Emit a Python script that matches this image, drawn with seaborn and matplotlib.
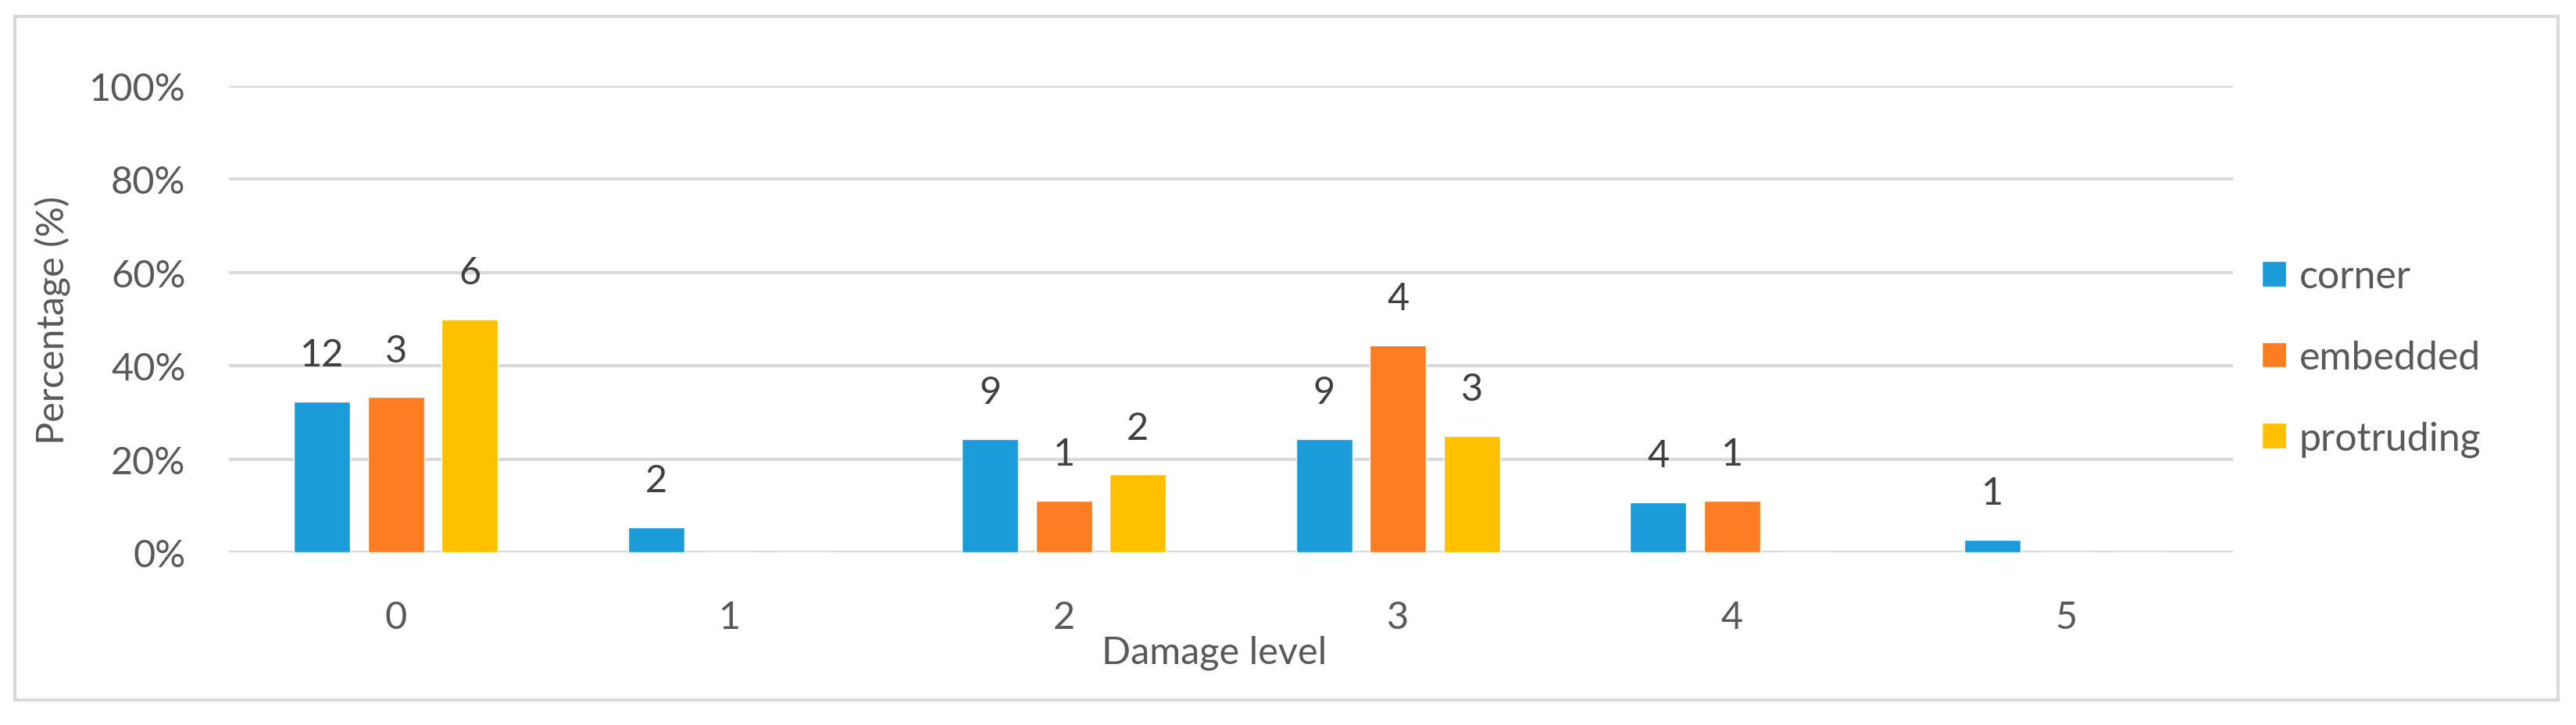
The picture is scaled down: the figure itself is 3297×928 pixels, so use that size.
import matplotlib
matplotlib.use('Agg')
import matplotlib.pyplot as plt
import seaborn as sns
import pandas as pd
from matplotlib.patches import Rectangle

# ---- data ----
levels = ['0', '1', '2', '3', '4', '5']
series = ['corner', 'embedded', 'protruding']
corner_pct = [32.4, 5.4, 24.3, 24.3, 10.8, 2.7]
embedded_pct = [33.3, 0.0, 11.1, 44.4, 11.1, 0.0]
protruding_pct = [50.0, 0.0, 16.7, 25.0, 0.0, 0.0]
corner_n = [12, 2, 9, 9, 4, 1]
embedded_n = [3, 0, 1, 4, 1, 0]
protruding_n = [6, 0, 2, 3, 0, 0]
yticks = [0, 20, 40, 60, 80, 100]
colors = ['#1B9BD7', '#FE7D22', '#FFC000']

pct = {'corner': corner_pct, 'embedded': embedded_pct, 'protruding': protruding_pct}
cnt = {'corner': corner_n, 'embedded': embedded_n, 'protruding': protruding_n}

rows = []
for s in series:
    for lv, p in zip(levels, pct[s]):
        rows.append({'level': lv, 'type': s, 'pct': p})
df = pd.DataFrame(rows)

sns.set_theme(style='white')
plt.rcParams['font.family'] = ['Lato', 'DejaVu Sans']

TXT = '#595959'
GRID = '#D9D9D9'

fig = plt.figure(figsize=(32.97, 9.29), dpi=100)
ax = fig.add_axes([293 / 3297, 1 - 708 / 929, (2858 - 293) / 3297, (708 - 111) / 929])

sns.barplot(data=df, x='level', y='pct', hue='type', order=levels, hue_order=series,
            palette=colors, saturation=1, width=0.663, gap=0.24, errorbar=None, ax=ax)

for s, cont in zip(series, ax.containers):
    labs = [str(n) if n > 0 else '' for n in cnt[s]]
    ax.bar_label(cont, labels=labs, padding=27, fontsize=35, color='#404040')

ax.set_ylim(0, 100)
ax.set_xlim(-0.5, 5.5)
ax.set_yticks(yticks)
ax.set_yticklabels([f'{t}%' for t in yticks])
ax.yaxis.grid(True, color=GRID, lw=3)
ax.xaxis.grid(False)
ax.set_axisbelow(True)
for sp in ax.spines.values():
    sp.set_visible(False)
ax.tick_params(axis='both', length=0, labelsize=35, labelcolor=TXT)
ax.tick_params(axis='x', pad=44)
ax.tick_params(axis='y', pad=40)

ax.set_xlabel('Damage level', fontsize=35, color=TXT)
ax.xaxis.set_label_coords(0.4916, -0.176)
ax.set_ylabel('Percentage (%)', fontsize=35, color=TXT)
ax.yaxis.set_label_coords(-0.0788, 0.5)

handles, labels = ax.get_legend_handles_labels()
if ax.legend_ is not None:
    ax.legend_.remove()
fig.legend(handles, labels, loc='center left', bbox_to_anchor=(2895 / 3297, 1 - 459 / 929),
           frameon=False, fontsize=36, handlelength=0.62, handleheight=0.62,
           handletextpad=0.34, labelspacing=1.15, borderpad=0, borderaxespad=0,
           labelcolor=TXT)

fig.patches.append(Rectangle((19 / 3297, 1 - 897 / 929), (3274 - 19) / 3297, (897 - 22) / 929,
                             transform=fig.transFigure, fill=False, edgecolor=GRID, lw=3))

fig.savefig('out.png', dpi=100)
